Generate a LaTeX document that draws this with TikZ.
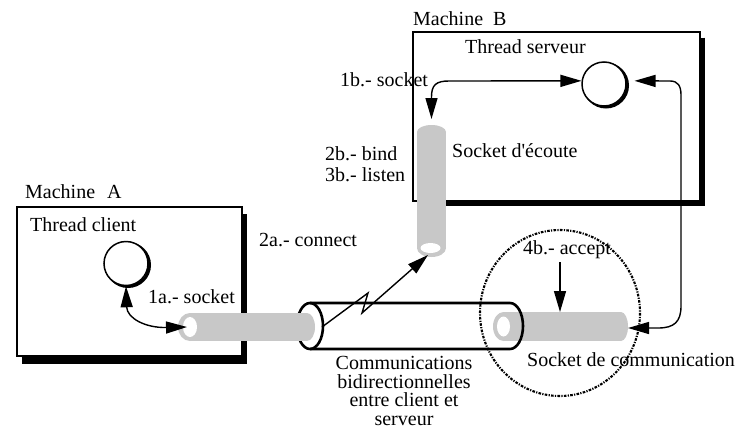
\documentclass[tikz,border=0pt]{standalone}
\usepackage{fontspec}
\setmainfont{Liberation Serif}
\usetikzlibrary{arrows.meta,calc}
\definecolor{tg}{RGB}{200,200,200}
\begin{document}
\begin{tikzpicture}[x=1pt,y=-1pt,
  lbl/.style={font=\fontsize{20pt}{18.5pt}\selectfont, inner sep=0pt, anchor=base west},
  machine/.style={draw, line width=1.3pt, fill=white, inner sep=0pt},
  shadowbar/.style={draw=black, line cap=butt},
  cshadow/.style={draw=black, line width=3pt},
  thread/.style={circle, draw, line width=1.5pt, fill=white, minimum size=44pt, inner sep=0pt},
  tubefill/.style={fill=tg},
  hole/.style={fill=white},
  arr/.style={line width=1.4pt, -{Triangle[length=21pt,width=12pt]}},
  darr/.style={line width=1.4pt, {Triangle[length=21pt,width=12pt]}-{Triangle[length=21pt,width=12pt]}},
  bigtube/.style={line width=2.6pt},
  zone/.style={line width=2.1pt, dash pattern=on 2.6pt off 1.3pt on 1.2pt off 1.3pt}
]
\useasboundingbox (0,0) rectangle (746,434);

% machines
\node[machine, minimum width=225pt, minimum height=149pt] (ma) at (129.5,281.5) {};
\node[machine, minimum width=287pt, minimum height=169pt] (mb) at (556.5,116.5) {};
% machine shadows (thick bars along right and bottom sides)
\draw[shadowbar, line width=4.5pt] (244.5,214) -- (244.5,357);
\draw[shadowbar, line width=7pt] (21.5,360) -- (246.75,360);
\draw[shadowbar, line width=5pt] (702.5,37.5) -- (702.5,201);
\draw[shadowbar, line width=5.5pt] (418,203.5) -- (705,203.5);

% thread shadows and threads
\draw[cshadow] (128,265) circle[radius=21.5];
\draw[cshadow] (606,85.5) circle[radius=21.5];
\node[thread] (tc) at (126,263.5) {};
\node[thread] (ts) at (604,84) {};

% communication socket (server side)
\fill[tubefill] (503.5,312) rectangle (621,341);
\fill[tubefill] (503.5,326.5) ellipse [x radius=10.5, y radius=14.5];
\fill[tubefill] (621,326.5) ellipse [x radius=7, y radius=14.5];
\fill[hole] (503.5,326.5) ellipse [x radius=6.5, y radius=10];

% big tube (bidirectional communication)
\draw[bigtube] (310,303) -- (510,303) arc[start angle=-90, end angle=90, x radius=13, y radius=23] -- (310,349);
\draw[bigtube] (310,326) ellipse [x radius=13, y radius=23];

% client socket
\fill[tubefill] (190,313) rectangle (307,341);
\fill[tubefill] (190,327) ellipse [x radius=12, y radius=14];
\fill[tubefill] (307,327) ellipse [x radius=8, y radius=14];
\fill[hole] (190,327) ellipse [x radius=7, y radius=10];

% listening socket
\fill[tubefill] (417,132) rectangle (446,248);
\fill[tubefill] (431.5,132) ellipse [x radius=14.5, y radius=7];
\fill[tubefill] (431.5,248) ellipse [x radius=14.5, y radius=9];
\fill[hole] (430.5,248) ellipse [x radius=10, y radius=5];

% coordinates of connector ends
\coordinate (cliHole) at (187,327);
\coordinate (lisTop) at (431.5,119);
\coordinate (lisHole) at (428,255);
\coordinate (lzStart) at (322,327);
\coordinate (accTop) at (560,262);
\coordinate (comTop) at (560,312);
\coordinate (comEnd) at (628,328);

% labels
\node[lbl] (lma) at (25,198) {Machine\hspace{12pt}A};
\node[lbl] (ltc) at (30,231) {Thread client};
\node[lbl] (l1a) at (148,303) {1a.- socket};
\node[lbl] (l2a) at (259,246) {2a.- connect};
\node[lbl] (lmb) at (413,25) {Machine\hspace{10pt}B};
\node[lbl] (lts) at (465,53.5) {Thread serveur};
\node[lbl] (l1b) at (340,86.5) {1b.- socket};
\node[lbl] (lse) at (452,157) {Socket d\textquotesingle\'ecoute};
\node[lbl] (l2b) at (325,160) {2b.- bind};
\node[lbl] (l3b) at (325,181.5) {3b.- listen};
\node[lbl] (l4b) at (523,254.5) {4b.- accept};
\node[lbl] (lsc) at (527,366) {Socket de communication};
\node[font=\fontsize{20pt}{18.5pt}\selectfont, inner sep=0pt, anchor=north, align=center] (lcb) at (404,356.5)
  {Communications\\bidirectionnelles\\entre client et\\serveur};

% connectors
\draw[darr] (tc.south) .. controls (127,318) and (145,328) .. (cliHole);
\draw[darr] (lisTop) -- (431.5,97) .. controls (431.5,85) and (436,81) .. (449,81) -- (ts.172);
\draw[darr] ($(ts.8)+(8,0)$) -- (670,81) .. controls (678,81) and (681,86) .. (681,95)
  -- (681,306) .. controls (681,322) and (674,328) .. (658,328) -- (comEnd);
\draw[arr] (accTop) -- (comTop);
\draw[arr] (lzStart) -- (368,293) -- (362,313) -- (lisHole);

% zone of accept
\draw[zone] (560,313) ellipse [x radius=80, y radius=83];
\end{tikzpicture}
\end{document}
